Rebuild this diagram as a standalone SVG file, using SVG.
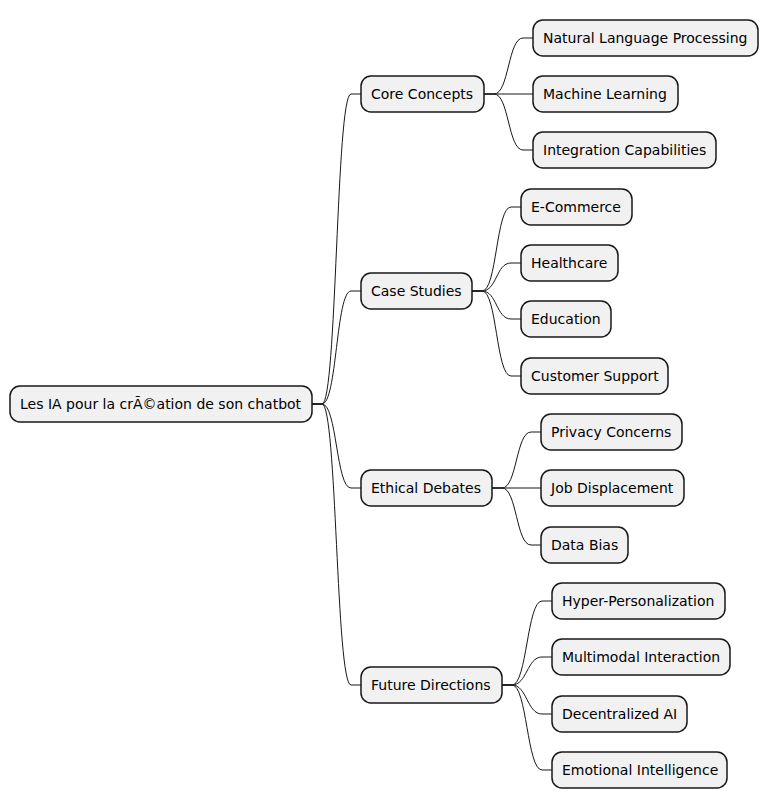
<svg xmlns="http://www.w3.org/2000/svg" width="778" height="808" viewBox="0 0 778 808">
<style>
.n rect{fill:#F1F1F1;stroke:#181818;stroke-width:1.5}
.n text{font-family:"DejaVu Sans",sans-serif;font-size:14px;fill:#000}
.c path{fill:none;stroke:#181818;stroke-width:1}
</style>
<rect width="778" height="808" fill="#fff"/>
<g class="c">
<path d="M312,404 L322,404 C337,404 336,94 351,94 L361,94"/>
<path d="M312,404 L322,404 C337,404 336,291 351,291 L361,291"/>
<path d="M312,404 L322,404 C337,404 336,488 351,488 L361,488"/>
<path d="M312,404 L322,404 C337,404 336,685 351,685 L361,685"/>
<path d="M484,94 L494,94 C509,94 508,38 523,38 L533,38"/>
<path d="M484,94 L533,94"/>
<path d="M484,94 L494,94 C509,94 508,150 523,150 L533,150"/>
<path d="M472,291 L482,291 C497,291 496,207 511,207 L521,207"/>
<path d="M472,291 L482,291 C497,291 496,263 511,263 L521,263"/>
<path d="M472,291 L482,291 C497,291 496,319 511,319 L521,319"/>
<path d="M472,291 L482,291 C497,291 496,376 511,376 L521,376"/>
<path d="M492,488 L502,488 C517,488 516,432 531,432 L541,432"/>
<path d="M492,488 L541,488"/>
<path d="M492,488 L502,488 C517,488 516,545 531,545 L541,545"/>
<path d="M502,685 L512,685 C527,685 527,601 542,601 L552,601"/>
<path d="M502,685 L512,685 C527,685 527,657 542,657 L552,657"/>
<path d="M502,685 L512,685 C527,685 527,714 542,714 L552,714"/>
<path d="M502,685 L512,685 C527,685 527,770 542,770 L552,770"/>
</g>
<g class="n" id="root"><rect x="10" y="386" width="302" height="36" rx="10"/><text x="20" y="409">Les IA pour la crÃ©ation de son chatbot</text></g>
<g class="n" id="core"><rect x="361" y="76" width="123" height="36" rx="10"/><text x="371" y="99">Core Concepts</text></g>
<g class="n" id="case"><rect x="361" y="273" width="111" height="36" rx="10"/><text x="371" y="296">Case Studies</text></g>
<g class="n" id="ethic"><rect x="361" y="470" width="131" height="36" rx="10"/><text x="371" y="493">Ethical Debates</text></g>
<g class="n" id="future"><rect x="361" y="667" width="141" height="36" rx="10"/><text x="371" y="690">Future Directions</text></g>
<g class="n" id="nlp"><rect x="533" y="20" width="225" height="36" rx="10"/><text x="543" y="43">Natural Language Processing</text></g>
<g class="n" id="ml"><rect x="533" y="76" width="145" height="36" rx="10"/><text x="543" y="99">Machine Learning</text></g>
<g class="n" id="integ"><rect x="533" y="132" width="183" height="36" rx="10"/><text x="543" y="155">Integration Capabilities</text></g>
<g class="n" id="ecom"><rect x="521" y="189" width="111" height="36" rx="10"/><text x="531" y="212">E-Commerce</text></g>
<g class="n" id="health"><rect x="521" y="245" width="97" height="36" rx="10"/><text x="531" y="268">Healthcare</text></g>
<g class="n" id="edu"><rect x="521" y="301" width="90" height="36" rx="10"/><text x="531" y="324">Education</text></g>
<g class="n" id="cust"><rect x="521" y="358" width="147" height="36" rx="10"/><text x="531" y="381">Customer Support</text></g>
<g class="n" id="priv"><rect x="541" y="414" width="141" height="36" rx="10"/><text x="551" y="437">Privacy Concerns</text></g>
<g class="n" id="job"><rect x="541" y="470" width="143" height="36" rx="10"/><text x="551" y="493">Job Displacement</text></g>
<g class="n" id="bias"><rect x="541" y="527" width="87" height="36" rx="10"/><text x="551" y="550">Data Bias</text></g>
<g class="n" id="hyper"><rect x="552" y="583" width="173" height="36" rx="10"/><text x="562" y="606">Hyper-Personalization</text></g>
<g class="n" id="multi"><rect x="552" y="639" width="178" height="36" rx="10"/><text x="562" y="662">Multimodal Interaction</text></g>
<g class="n" id="decent"><rect x="552" y="696" width="135" height="36" rx="10"/><text x="562" y="719">Decentralized AI</text></g>
<g class="n" id="emo"><rect x="552" y="752" width="175" height="36" rx="10"/><text x="562" y="775">Emotional Intelligence</text></g>
</svg>
